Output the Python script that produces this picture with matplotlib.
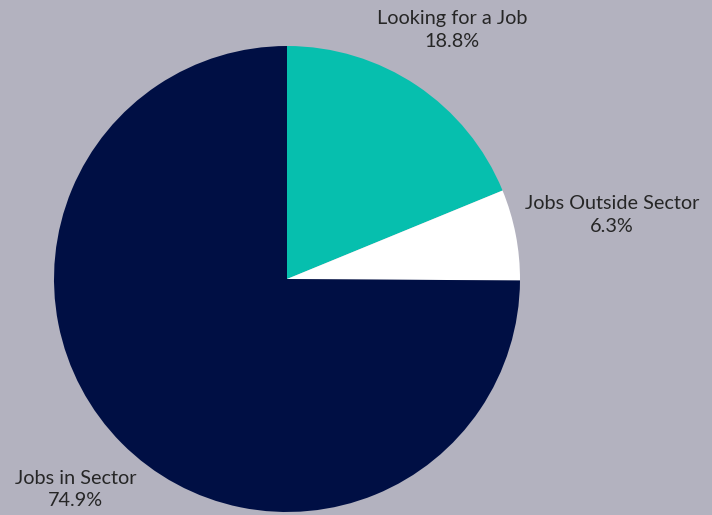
import matplotlib
matplotlib.use("Agg")
import matplotlib.pyplot as plt

categories = ["Looking for a Job", "Jobs Outside Sector", "Jobs in Sector"]
shares = [18.8, 6.3, 74.9]
colors = ["#06BFAE", "#FFFFFF", "#000F44"]
label_pos = [(0.708, 1.069), (1.395, 0.275), (-0.908, -0.904)]

bg = "#B3B2BF"
fig = plt.figure(figsize=(7.12, 5.15), dpi=100, facecolor=bg)
ax = fig.add_axes([0, 0, 1, 1])
ax.set_facecolor(bg)

ax.pie(shares, colors=colors, startangle=90, counterclock=False,
       radius=1.0, center=(0, 0), wedgeprops=dict(linewidth=0))

for name, val, (x, y) in zip(categories, shares, label_pos):
    ax.text(x, y, f"{name}\n{val:.1f}%", ha="center", va="center",
            fontsize=14.3, color="#262626", family="Lato", linespacing=1.4)

ax.set_xlim(-287 / 233, (712 - 287) / 233)
ax.set_ylim((279 - 515) / 233, 279 / 233)
ax.set_aspect("equal")
ax.axis("off")

fig.savefig("out.png", dpi=100, facecolor=bg)
